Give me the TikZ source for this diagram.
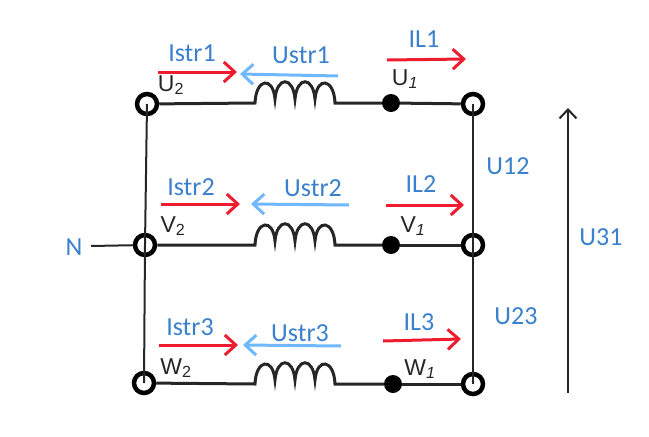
\documentclass[tikz,border=0pt]{standalone}
\usepackage{fontspec}
\setmainfont{Carlito}
\newfontfamily\termfont{Liberation Sans}
\usetikzlibrary{arrows.meta}
\definecolor{labelblue}{HTML}{3A80CC}
\definecolor{currentred}{HTML}{ED1C2E}
\definecolor{voltblue}{HTML}{6FB7FF}
% four humps, from a coil's left end to its right end
\newcommand{\coilhumps}{
    .. controls +(1,-25) and +(-2,-23) .. ++(20,-4)
    .. controls +(2,-23) and +(-2,-23) .. ++(20,0)
    .. controls +(2,-23) and +(-2,-23) .. ++(20,0)
    .. controls +(2,-23) and +(-1,-25) .. ++(20,4)}
\begin{document}
\begin{tikzpicture}[
    x=1pt, y=-1pt,
    terminal/.style={circle, draw=black, line width=4.5pt, minimum size=20pt, inner sep=0pt},
    dot/.style={circle, fill=black, minimum size=18pt, inner sep=0pt},
    wire/.style={black!85, line width=3pt},
    thin_wire/.style={black!85, line width=2pt},
    red_arrow/.style={currentred, line width=3pt, -{Straight Barb[length=11pt,width=20pt,line width=3pt]}},
    blue_arrow/.style={voltblue, line width=3pt, -{Straight Barb[length=11pt,width=20pt,line width=3pt]}},
    lbl/.style={labelblue, font=\fontsize{26}{26}\selectfont, inner sep=0pt},
    term_lbl/.style={black!85, font=\termfont\fontsize{23}{23}\selectfont, inner sep=0pt}
]
\useasboundingbox (0,0) rectangle (649,437);

% --- Row 1 (Top) ---
\node[terminal] (u2) at (147,104) {};
\node[dot] (u1) at (391,103) {};
\node[terminal] (u3) at (473,104) {};
\coordinate (ca1) at (255,103);
\draw[wire] (u2) -- (ca1) \coilhumps -- (u1);
\draw[wire] (u1) -- (u3);
\node[term_lbl] (ulab2) at (171,85) {U\textsubscript{2}};
\node[term_lbl] (ulab1) at (405,79) {U\textsubscript{\itshape 1}};

\coordinate (ir1a) at (158,72);
\coordinate (ir1b) at (237,72);
\coordinate (ub1a) at (338,76);
\coordinate (ub1b) at (240,74);
\coordinate (il1a) at (387,60);
\coordinate (il1b) at (466,59);
\draw[red_arrow] (ir1a) -- (ir1b);
\draw[blue_arrow] (ub1a) -- (ub1b);
\draw[red_arrow] (il1a) -- (il1b);
\node[lbl] (istr1) at (192,53) {Istr1};
\node[lbl] (ustr1) at (301,55) {Ustr1};
\node[lbl] (il1) at (424,39) {IL1};

% --- Row 2 (Middle) ---
\node[terminal] (v2) at (145,245) {};
\node[dot] (v1) at (391,245) {};
\node[terminal] (v3) at (473,245) {};
\coordinate (ca2) at (255,245);
\draw[wire] (v2) -- (ca2) \coilhumps -- (v1);
\draw[wire] (v1) -- (v3);
\node[term_lbl] (vlab2) at (173,226) {V\textsubscript{2}};
\node[term_lbl] (vlab1) at (413,226) {V\textsubscript{\itshape 1}};

\coordinate (ir2a) at (161,204);
\coordinate (ir2b) at (240,204);
\coordinate (ub2a) at (349,205);
\coordinate (ub2b) at (251,204);
\coordinate (il2a) at (386,205);
\coordinate (il2b) at (464,205);
\draw[red_arrow] (ir2a) -- (ir2b);
\draw[blue_arrow] (ub2a) -- (ub2b);
\draw[red_arrow] (il2a) -- (il2b);
\node[lbl] (istr2) at (191,187) {Istr2};
\node[lbl] (ustr2) at (313,188) {Ustr2};
\node[lbl] (il2) at (421,184) {IL2};

% --- Row 3 (Bottom) ---
\node[terminal] (w2) at (144,383) {};
\node[dot] (w1) at (393,384) {};
\node[terminal] (w3) at (473,384) {};
\coordinate (ca3) at (255,384);
\draw[wire] (w2) -- (ca3) \coilhumps -- (w1);
\draw[wire] (w1) -- (w3);
\node[term_lbl] (wlab2) at (176,368) {W\textsubscript{2}};
\node[term_lbl] (wlab1) at (420,369) {W\textsubscript{\itshape 1}};

\coordinate (ir3a) at (159,345);
\coordinate (ir3b) at (238,345);
\coordinate (ub3a) at (341,346);
\coordinate (ub3b) at (243,345);
\coordinate (il3a) at (383,341);
\coordinate (il3b) at (461,339);
\draw[red_arrow] (ir3a) -- (ir3b);
\draw[blue_arrow] (ub3a) -- (ub3b);
\draw[red_arrow] (il3a) -- (il3b);
\node[lbl] (istr3) at (190,327) {Istr3};
\node[lbl] (ustr3) at (300,333) {Ustr3};
\node[lbl] (il3) at (419,322) {IL3};

% Neutral and verticals
\coordinate (nend) at (91,246);
\draw[thin_wire] (nend) -- (v2);
\node[lbl] (nlab) at (74,247) {N};
\draw[thin_wire] (u2.center) -- (v2.center) -- (w2.center);
\draw[thin_wire] (u3.center) -- (v3.center) -- (w3.center);

% Line voltages
\node[lbl] (u12) at (508,166) {U12};
\node[lbl] (u23) at (516,316) {U23};
\node[lbl] (u31) at (601,237) {U31};
\coordinate (u31a) at (568,393);
\coordinate (u31b) at (568,108);
\draw[thin_wire, -{Straight Barb[length=9pt,width=17pt,line width=2pt]}] (u31a) -- (u31b);

\end{tikzpicture}
\end{document}
